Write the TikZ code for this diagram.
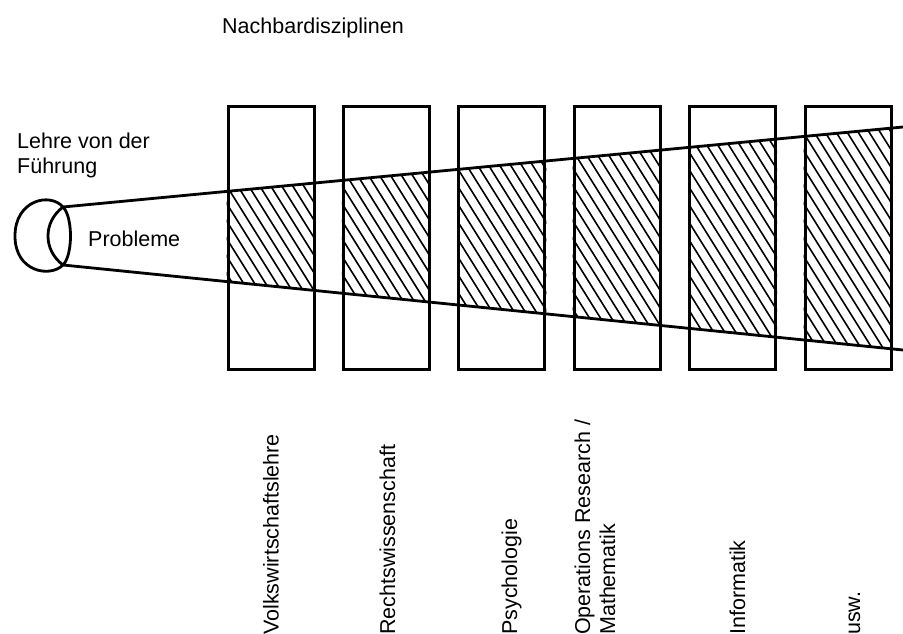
\documentclass[tikz,border=0pt]{standalone}
\usepackage{fontspec}
\setmainfont{Liberation Sans}
\begin{document}
\begin{tikzpicture}[x=1pt,y=-1pt,
  every node/.style={inner sep=0pt, font=\fontsize{21.5}{25}\selectfont},
  box/.style={draw, line width=3pt, minimum width=86pt, minimum height=262pt},
  ray/.style={line width=2.8pt},
  hatch/.style={line width=1.6pt},
  fieldlabel/.style={rotate=90, anchor=base west, align=left}]
\useasboundingbox (0,0) rectangle (903,634);

% the problem cone: from the circle to the right edge
\coordinate (A) at (63,207);
\coordinate (C) at (63,265);
\coordinate (B) at (903,127);
\coordinate (D) at (903,350);

% the neighbouring disciplines as upright boxes
\foreach \i in {0,...,5} {
  \pgfmathsetmacro\bx{271+115.4*\i}
  \node[box] (r\i) at (\bx,238) {};
}

% hatched part of the cone inside each box
\foreach \i in {0,...,5} {
  \begin{scope}
    \clip (r\i.north west) rectangle (r\i.south east);
    \clip (A) -- (B) -- (D) -- (C) -- cycle;
    \pgfmathsetmacro\hx{228+115.4*\i}
    \foreach \k in {-22,...,10}
      \draw[hatch] (\hx+\k*11,100) -- ++(190,304);
  \end{scope}
}

% the cone edges
\draw[ray] (A) -- (B);
\draw[ray] (C) -- (D);

% the circle with its lens
\draw[ray] (A) .. controls (50,192) and (15,200) .. (15,236)
               .. controls (15,272) and (50,278) .. (C)
               .. controls (73,255) and (73,217) .. (A);
\draw[ray] (A) .. controls (43,222) and (43,250) .. (C);

% labels
\node[anchor=base west] (title) at (222,34) {Nachbardisziplinen};
\node[anchor=north west, align=left] (lehre) at (17,132.5) {Lehre von der\\Führung};
\node[anchor=base west] (probleme) at (88,246) {Probleme};

\node[fieldlabel] (l0) at (278.5,635) {Volkswirtschaftslehre};
\node[fieldlabel] (l1) at (395,635) {Rechtswissenschaft};
\node[fieldlabel] (l2) at (517,635) {Psychologie};
\node[fieldlabel] (l3) at (615,635) {Operations Research /\\Mathematik};
\node[fieldlabel] (l4) at (745,635) {Informatik};
\node[fieldlabel] (l5) at (860,635) {usw.};
\end{tikzpicture}
\end{document}
